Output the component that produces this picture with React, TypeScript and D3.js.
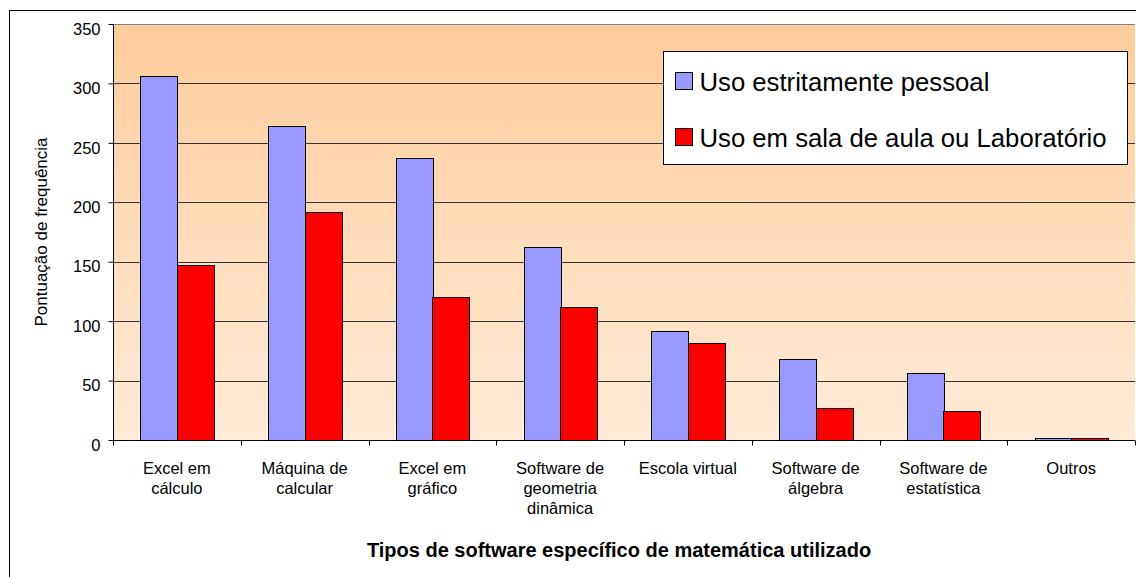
import { useEffect, useRef } from "react";
import * as d3 from "d3";

// Categories (line breaks as in the source chart)
const CATEGORIES = [
  ["Excel em", "cálculo"],
  ["Máquina de", "calcular"],
  ["Excel em", "gráfico"],
  ["Software de", "geometria", "dinâmica"],
  ["Escola virtual"],
  ["Software de", "álgebra"],
  ["Software de", "estatística"],
  ["Outros"],
];

const SERIES = ["Uso estritamente pessoal", "Uso em sala de aula ou Laboratório"];
const PESSOAL = [306, 264, 237, 162, 92, 68, 56, 2];
const SALA = [147, 192, 120, 112, 82, 27, 24, 2];
const Y_TICKS = [0, 50, 100, 150, 200, 250, 300, 350];

const COLORS = ["#9999FF", "#FF0000"];
const FONT = "'Liberation Sans', Arial, sans-serif";

function buildChart(svgEl: SVGSVGElement) {
  const width = 1136;
  const height = 577;
  const margin = { top: 24, left: 113, right: 1, bottom: 137 };
  const innerW = width - margin.left - margin.right;
  const innerH = height - margin.top - margin.bottom;

  const svg = d3.select(svgEl);
  svg.selectAll("*").remove();
  svg.attr("width", width).attr("height", height);

  const defs = svg.append("defs");
  const grad = defs.append("linearGradient")
    .attr("id", "plot-bg")
    .attr("x1", 0).attr("y1", 0).attr("x2", 0).attr("y2", 1);
  grad.append("stop").attr("offset", "0%").attr("stop-color", "#FFCC99");
  grad.append("stop").attr("offset", "100%").attr("stop-color", "#FFEBD8");

  // chart area (cropped on the right / bottom)
  svg.append("rect")
    .attr("x", 9.5).attr("y", 10.5)
    .attr("width", width + 20).attr("height", height + 20)
    .attr("fill", "#fff").attr("stroke", "#000").attr("stroke-width", 1);

  const g = svg.append("g").attr("transform", `translate(${margin.left},${margin.top})`);

  const x = d3.scaleBand<number>()
    .domain(d3.range(CATEGORIES.length))
    .range([0, innerW])
    .padding(0);
  const xs = d3.scaleBand<number>()
    .domain([0, 1])
    .range([0, x.bandwidth()])
    .paddingInner(0)
    .paddingOuter(0.75);
  const y = d3.scaleLinear().domain([0, 350]).range([innerH, 0]);

  g.append("rect")
    .attr("width", innerW).attr("height", innerH)
    .attr("fill", "url(#plot-bg)");

  // gridlines
  g.append("g")
    .selectAll("line")
    .data(Y_TICKS.filter(t => t > 0))
    .join("line")
    .attr("x1", 0).attr("x2", innerW)
    .attr("y1", d => Math.round(y(d)) + 0.5)
    .attr("y2", d => Math.round(y(d)) + 0.5)
    .attr("stroke", d => (d === 350 ? "#808080" : "#333"))
    .attr("stroke-width", 1);

  // bars
  const data = [PESSOAL, SALA];
  data.forEach((vals, si) => {
    g.append("g")
      .selectAll("rect")
      .data(vals)
      .join("rect")
      .attr("x", (_, i) => Math.round((x(i) ?? 0) + (xs(si) ?? 0)) + 0.5)
      .attr("y", d => Math.round(y(d)) + 0.5)
      .attr("width", Math.round(xs.bandwidth()))
      .attr("height", d => innerH - Math.round(y(d)))
      .attr("fill", COLORS[si])
      .attr("stroke", "#000")
      .attr("stroke-width", 1);
  });

  // y axis
  g.append("g")
    .attr("transform", "translate(0.5,0)")
    .call(d3.axisLeft(y).tickValues(Y_TICKS).tickSize(5).tickPadding(8))
    .call(ax => {
      ax.select(".domain").attr("stroke", "#000").attr("d", `M0,0V${innerH + 5}`);
      ax.selectAll(".tick line").attr("stroke", "#000");
      ax.selectAll(".tick text")
        .attr("fill", "#000")
        .attr("dy", "0.62em")
        .style("font-size", "16.5px")
        .style("font-family", FONT);
    });

  // x axis
  const xAxis = g.append("g").attr("transform", `translate(0,${innerH + 0.5})`);
  xAxis.append("line")
    .attr("x1", 0).attr("x2", innerW)
    .attr("stroke", "#000");
  xAxis.selectAll(".xtick")
    .data(d3.range(CATEGORIES.length + 1))
    .join("line")
    .attr("class", "xtick")
    .attr("x1", i => Math.round(i * x.step()) + 0.5)
    .attr("x2", i => Math.round(i * x.step()) + 0.5)
    .attr("y1", 0).attr("y2", 5)
    .attr("stroke", "#000");

  const labels = xAxis.selectAll(".xlabel")
    .data(CATEGORIES)
    .join("text")
    .attr("class", "xlabel")
    .attr("text-anchor", "middle")
    .attr("fill", "#000")
    .style("font-size", "16.5px")
    .style("font-family", FONT);
  labels.each(function (lines, i) {
    const t = d3.select(this);
    lines.forEach((line, li) => {
      t.append("tspan")
        .attr("x", (x(i) ?? 0) + x.bandwidth() / 2)
        .attr("y", 33 + li * 20)
        .text(line);
    });
  });

  // axis titles
  svg.append("text")
    .attr("transform", `translate(47,${margin.top + innerH / 2}) rotate(-90)`)
    .attr("text-anchor", "middle")
    .attr("fill", "#000")
    .style("font-size", "17px")
    .style("font-family", FONT)
    .text("Pontuação de frequência");

  svg.append("text")
    .attr("x", 619).attr("y", 557)
    .attr("text-anchor", "middle")
    .attr("fill", "#000")
    .style("font-size", "20px")
    .style("font-weight", "bold")
    .style("font-family", FONT)
    .text("Tipos de software específico de matemática utilizado");

  // legend
  const legend = svg.append("g").attr("transform", "translate(663.5,51.5)");
  legend.append("rect")
    .attr("width", 464).attr("height", 113)
    .attr("fill", "#fff").attr("stroke", "#000");
  SERIES.forEach((name, i) => {
    const ly = 21 + i * 56;
    legend.append("rect")
      .attr("x", 12).attr("y", ly)
      .attr("width", 17).attr("height", 17)
      .attr("fill", COLORS[i]).attr("stroke", "#000");
    legend.append("text")
      .attr("x", 36).attr("y", ly + 18)
      .attr("fill", "#000")
      .style("font-size", "25.7px")
      .style("font-family", FONT)
      .text(name);
  });
}

export default function App() {
  const svgRef = useRef<SVGSVGElement>(null);

  useEffect(() => {
    document.body.style.margin = "0";
    if (svgRef.current) buildChart(svgRef.current);
  }, []);

  return <svg ref={svgRef} style={{ display: "block" }} />;
}
